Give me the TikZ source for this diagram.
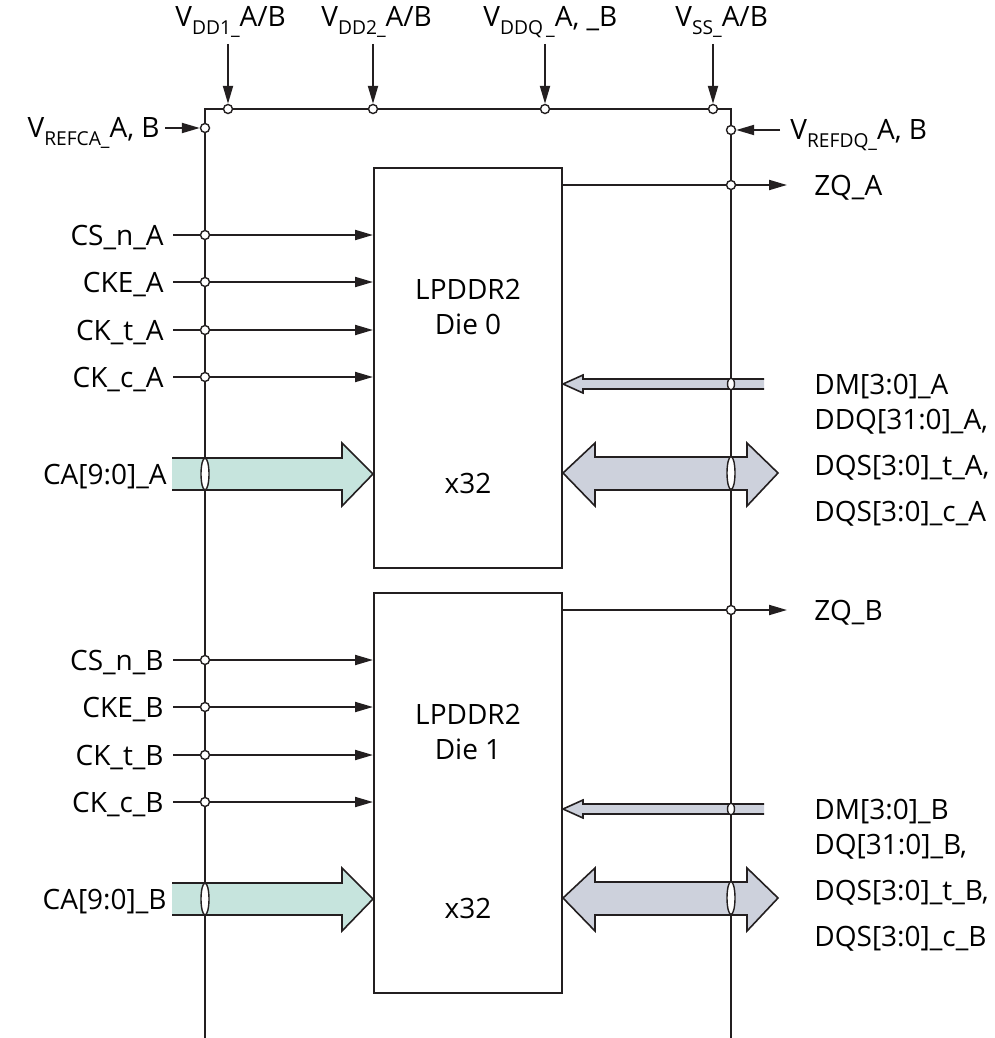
\documentclass[tikz,border=0pt]{standalone}
\usepackage{fontspec}
\setmainfont{Open Sans}
\usetikzlibrary{arrows.meta}
\definecolor{wirec}{RGB}{35,31,32}
\definecolor{cabus}{RGB}{198,228,221}
\definecolor{dqbus}{RGB}{205,209,220}
\newcommand\pinsub[1]{\raisebox{-4pt}{\fontsize{9.6}{10}\selectfont #1}}
\tikzset{
  wire/.style={draw=wirec,line width=1pt},
  sig/.style={wire,-{Triangle[length=9pt,width=5pt]}},
  pin/.style={circle,draw=wirec,fill=white,line width=0.7pt,inner sep=0pt,minimum size=4.5pt},
  die/.style={draw=wirec,line width=1pt,minimum width=94pt,minimum height=200pt,inner sep=0pt},
  lbl/.style={inner ysep=0pt,inner xsep=4.5pt,text height=10pt,text depth=0pt},
  buslbl/.style={inner ysep=0pt,inner xsep=4.5pt,align=left},
  bus/.style={draw=wirec,line width=0.8pt},
  cut/.style={draw=wirec,fill=white,line width=0.7pt}
}
\begin{document}
\begin{tikzpicture}[x=0.5pt,y=0.5pt,yscale=-1,font=\fontsize{14}{23}\selectfont]
\useasboundingbox (0,0) rectangle (995,1038);

% package outline
\draw[wire] (205,1038) -- (205,109) -- (731,109) -- (731,1038);

% dies
\node[die] (die0) at (468,368) {};
\node[die] (die1) at (468,793) {};
\node[align=center,font=\fontsize{14}{17.5}\selectfont] (die0name) at (468,307) {LPDDR2\\Die 0};
\node[lbl] (die0width) at (468,483) {x32};
\node[align=center,font=\fontsize{14}{17.5}\selectfont] (die1name) at (468,732) {LPDDR2\\Die 1};
\node[lbl] (die1width) at (468,908) {x32};

% supply pins
\node[pin] (vdd1pin) at (228,109) {};
\node[pin] (vdd2pin) at (373,109) {};
\node[pin] (vddqpin) at (545,109) {};
\node[pin] (vsspin) at (713,109) {};
\node[anchor=base west,inner sep=0pt] (vdd1) at (175,27) {V\pinsub{DD1\_}A/B};
\node[anchor=base west,inner sep=0pt] (vdd2) at (321,27) {V\pinsub{DD2\_}A/B};
\node[anchor=base west,inner sep=0pt] (vddq) at (483,27) {V\pinsub{DDQ\,\_}A, \_B};
\node[anchor=base west,inner sep=0pt] (vss) at (675,27) {V\pinsub{SS\_}A/B};
\coordinate (vdd1in) at (228,44);
\coordinate (vdd2in) at (373,44);
\coordinate (vddqin) at (545,44);
\coordinate (vssin) at (713,44);
\draw[sig] (vdd1in) -- (vdd1pin);
\draw[sig] (vdd2in) -- (vdd2pin);
\draw[sig] (vddqin) -- (vddqpin);
\draw[sig] (vssin) -- (vsspin);

% reference pins
\node[pin] (vrefcapin) at (205,128) {};
\node[pin] (vrefdqpin) at (731,130) {};
\node[anchor=base east,inner sep=0pt] (vrefca) at (160,137) {V\pinsub{REFCA\_}A, B};
\node[anchor=base west,inner sep=0pt] (vrefdq) at (790,140) {V\pinsub{REFDQ\_}A, B};
\coordinate (vrefcain) at (165,128);
\coordinate (vrefdqin) at (780,130);
\draw[sig] (vrefcain) -- (vrefcapin);
\draw[sig] (vrefdqin) -- (vrefdqpin);

% die 0 control inputs
\node[pin] (csapin) at (205,235) {};
\node[pin] (ckeapin) at (205,282) {};
\node[pin] (cktapin) at (205,330) {};
\node[pin] (ckcapin) at (205,377) {};
\node[lbl,anchor=east] (csa) at (173,235) {CS\_n\_A};
\node[lbl,anchor=east] (ckea) at (173,282) {CKE\_A};
\node[lbl,anchor=east] (ckta) at (173,330) {CK\_t\_A};
\node[lbl,anchor=east] (ckca) at (173,377) {CK\_c\_A};
\draw[wire] (csa) -- (csapin);
\draw[wire] (ckea) -- (ckeapin);
\draw[wire] (ckta) -- (cktapin);
\draw[wire] (ckca) -- (ckcapin);
\draw[sig] (csapin) -- (csapin -| die0.west);
\draw[sig] (ckeapin) -- (ckeapin -| die0.west);
\draw[sig] (cktapin) -- (cktapin -| die0.west);
\draw[sig] (ckcapin) -- (ckcapin -| die0.west);

% die 1 control inputs
\node[pin] (csbpin) at (205,660) {};
\node[pin] (ckebpin) at (205,707) {};
\node[pin] (cktbpin) at (205,755) {};
\node[pin] (ckcbpin) at (205,802) {};
\node[lbl,anchor=east] (csb) at (173,660) {CS\_n\_B};
\node[lbl,anchor=east] (ckeb) at (173,707) {CKE\_B};
\node[lbl,anchor=east] (cktb) at (173,755) {CK\_t\_B};
\node[lbl,anchor=east] (ckcb) at (173,802) {CK\_c\_B};
\draw[wire] (csb) -- (csbpin);
\draw[wire] (ckeb) -- (ckebpin);
\draw[wire] (cktb) -- (cktbpin);
\draw[wire] (ckcb) -- (ckcbpin);
\draw[sig] (csbpin) -- (csbpin -| die1.west);
\draw[sig] (ckebpin) -- (ckebpin -| die1.west);
\draw[sig] (cktbpin) -- (cktbpin -| die1.west);
\draw[sig] (ckcbpin) -- (ckcbpin -| die1.west);

% ZQ outputs
\node[pin] (zqapin) at (731,185) {};
\node[pin] (zqbpin) at (731,610) {};
\coordinate (zqaout) at (787,185);
\coordinate (zqbout) at (787,610);
\node[lbl,anchor=west] (zqa) at (805,185) {ZQ\_A};
\node[lbl,anchor=west] (zqb) at (805,610) {ZQ\_B};
\draw[wire] (die0.east |- zqapin) -- (zqapin);
\draw[sig] (zqapin) -- (zqaout);
\draw[wire] (die1.east |- zqbpin) -- (zqbpin);
\draw[sig] (zqbpin) -- (zqbout);

% CA buses
\draw[bus,fill=cabus] (172,458) -- (342,458) -- (342,443) -- (373,474) -- (342,506) -- (342,490) -- (172,490);
\draw[cut] (205,474) ellipse [x radius=2pt,y radius=8pt];
\node[lbl,anchor=east] (caa) at (176,474) {CA[9:0]\_A};
\draw[bus,fill=cabus] (172,883) -- (342,883) -- (342,868) -- (373,899) -- (342,931) -- (342,915) -- (172,915);
\draw[cut] (205,899) ellipse [x radius=2pt,y radius=8pt];
\node[lbl,anchor=east] (cab) at (176,899) {CA[9:0]\_B};

% DM buses
\draw[bus,fill=dqbus] (764,379) -- (583,379) -- (583,375) -- (563,384) -- (583,393) -- (583,389) -- (764,389);
\draw[cut] (731,384) ellipse [x radius=1.75pt,y radius=3pt];
\node[lbl,anchor=west] (dma) at (805,384) {DM[3:0]\_A};
\draw[bus,fill=dqbus] (764,804) -- (583,804) -- (583,800) -- (563,809) -- (583,818) -- (583,814) -- (764,814);
\draw[cut] (731,809) ellipse [x radius=1.75pt,y radius=3pt];
\node[lbl,anchor=west] (dmb) at (805,809) {DM[3:0]\_B};

% DQ buses
\draw[bus,fill=dqbus] (563,473) -- (595,443) -- (595,457) -- (747,457) -- (747,443) -- (778,473) -- (747,506) -- (747,490) -- (595,490) -- (595,506) -- cycle;
\draw[cut] (731,473) ellipse [x radius=2pt,y radius=8.25pt];
\node[buslbl,anchor=west] (dqa) at (805,468) {DDQ[31:0]\_A,\\DQS[3:0]\_t\_A,\\DQS[3:0]\_c\_A};
\draw[bus,fill=dqbus] (563,898) -- (595,868) -- (595,882) -- (747,882) -- (747,868) -- (778,898) -- (747,931) -- (747,915) -- (595,915) -- (595,931) -- cycle;
\draw[cut] (731,898) ellipse [x radius=2pt,y radius=8.25pt];
\node[buslbl,anchor=west] (dqb) at (805,893) {DQ[31:0]\_B,\\DQS[3:0]\_t\_B,\\DQS[3:0]\_c\_B};
\end{tikzpicture}
\end{document}
